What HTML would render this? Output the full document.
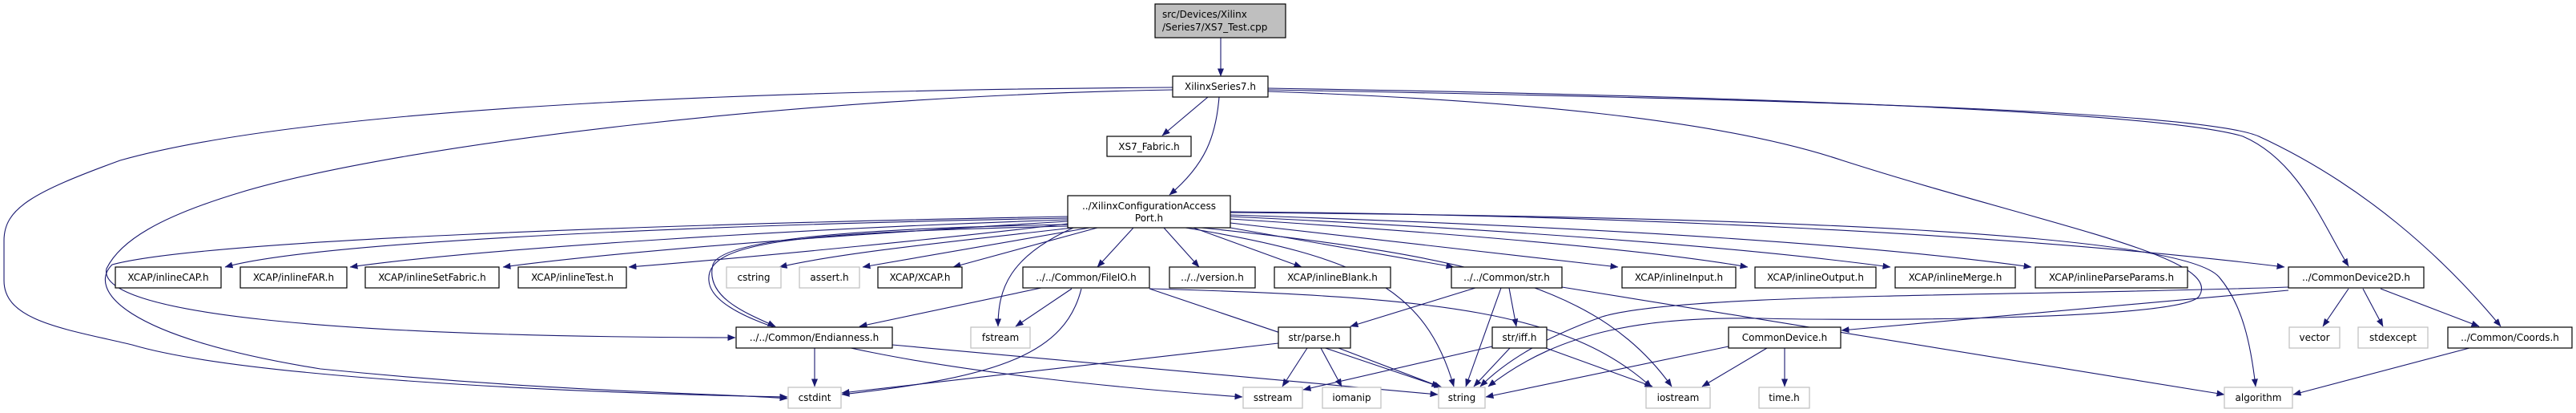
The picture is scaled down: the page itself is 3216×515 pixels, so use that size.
<!DOCTYPE html>
<html><head><meta charset="utf-8"><style>
html,body{margin:0;padding:0;background:#fff;}
svg{display:block;}
text{font-family:"DejaVu Sans","Liberation Sans",sans-serif;font-size:12px;fill:#000;}
.n{fill:#fff;stroke:#000;stroke-width:1.2;}
.g{fill:#fff;stroke:#bfbfbf;stroke-width:1.2;}
.e{fill:none;stroke:#191970;stroke-width:1.1;}
</style></head><body>
<svg width="3216" height="515" viewBox="0 0 3216 515" xmlns="http://www.w3.org/2000/svg">
<defs><marker id="a" markerWidth="10" markerHeight="8" refX="9.5" refY="4" orient="auto" markerUnits="userSpaceOnUse"><path d="M0,0 L10,4 L0,8 Z" fill="#191970"/></marker></defs>
<g class="e" marker-end="url(#a)">
<path d="M1524,47 L1524,95"/>
<path d="M1508,121 L1451,169"/>
<path d="M1522,121 C1518,170 1505,205 1460,243"/>
<path d="M1464,109 C1000,112 400,130 150,200 C40,240 5,260 5,300 L5,350 C5,400 80,410 165,430 C300,470 700,490 983,495"/>
<path d="M1464,112 C1000,120 500,180 300,240 C200,270 150,300 133,335 C120,390 400,420 918,421"/>
<path d="M1583,110 C2200,120 2700,140 2800,170 C2870,200 2900,280 2932,332"/>
<path d="M1583,112 C2300,125 2750,140 2820,170 C2950,230 3050,320 3122,407"/>
<path d="M1583,114 C1900,125 2150,150 2300,200 C2550,280 2780,320 2745,370 C2720,400 2300,400 2200,397 C2060,395 1950,410 1858,482"/>
<path d="M1333,272 C900,280 400,300 281,333"/>
<path d="M1333,274 C1000,285 600,310 437,333"/>
<path d="M1333,276 C1100,290 800,310 628,333"/>
<path d="M1333,279 C1200,295 950,320 785,333"/>
<path d="M1340,284 C1200,300 1050,315 973,333"/>
<path d="M1360,284 L1077,333"/>
<path d="M1370,284 L1190,333"/>
<path d="M1415,284 L1370,333"/>
<path d="M1453,284 L1497,333"/>
<path d="M1490,284 L1625,333"/>
<path d="M1536,284 L1815,333"/>
<path d="M1536,278 L2020,333"/>
<path d="M1536,273 C1800,290 2050,310 2182,333"/>
<path d="M1536,270 C1850,285 2150,305 2360,333"/>
<path d="M1536,268 C1900,280 2300,300 2536,333"/>
<path d="M1536,264 C2000,268 2500,290 2852,333"/>
<path d="M1536,265 C2200,270 2720,290 2770,345 C2800,380 2810,430 2816,482"/>
<path d="M1340,284 C1260,320 1246,360 1246,407"/>
<path d="M1480,284 C1700,320 1780,360 1815,482"/>
<path d="M1500,284 C1850,320 2000,360 2087,482"/>
<path d="M1333,282 C1000,290 880,300 885,350 C890,420 1200,470 1551,495"/>
<path d="M1333,280 C1050,285 900,300 890,330 C880,370 930,390 968,407"/>
<path d="M1333,270 C800,280 250,300 140,330 C110,360 150,420 400,460 C700,490 900,490 983,497"/>
<path d="M1300,359 L1073,407"/>
<path d="M1338,360 L1268,407"/>
<path d="M1350,360 C1330,440 1250,470 1051,492"/>
<path d="M1435,360 L1800,483"/>
<path d="M1435,360 C1800,370 1960,390 2062,483"/>
<path d="M1017,434 L1017,482"/>
<path d="M1114,430 L1795,492"/>
<path d="M1842,359 L1686,407"/>
<path d="M1874,359 L1830,482"/>
<path d="M1884,359 L1893,407"/>
<path d="M1950,358 L2777,492"/>
<path d="M1632,434 L1601,482"/>
<path d="M1649,434 L1675,482"/>
<path d="M1671,434 L1797,482"/>
<path d="M1596,428 L1051,490"/>
<path d="M1863,432 L1627,486"/>
<path d="M1885,434 L1840,482"/>
<path d="M1930,434 L2063,482"/>
<path d="M2158,432 L1855,495"/>
<path d="M2206,434 L2125,482"/>
<path d="M2228,434 L2228,482"/>
<path d="M2857,362 L2299,412"/>
<path d="M2857,358 C2500,370 2100,365 2000,395 C1930,420 1880,450 1848,482"/>
<path d="M2932,360 L2900,407"/>
<path d="M2950,360 L2975,407"/>
<path d="M2972,360 L3095,407"/>
<path d="M3083,434 L2863,492"/>
</g>
<!-- nodes -->
<rect x="1442" y="5" width="163" height="42" fill="#bfbfbf" stroke="#000" stroke-width="1.2"/>
<text x="1451" y="22">src/Devices/Xilinx</text><text x="1451" y="38">/Series7/XS7_Test.cpp</text>
<g>
<rect class="n" x="1464" y="95" width="119" height="26"/><text x="1523.5" y="112" text-anchor="middle">XilinxSeries7.h</text>
<rect class="n" x="1382" y="170" width="105" height="25"/><text x="1434.5" y="187" text-anchor="middle">XS7_Fabric.h</text>
<rect class="n" x="1333" y="244" width="203" height="40"/><text x="1434.5" y="261" text-anchor="middle">../XilinxConfigurationAccess</text><text x="1434.5" y="276" text-anchor="middle">Port.h</text>
</g>
<g text-anchor="middle">
<rect class="n" x="144" y="333" width="132" height="26"/><text x="210" y="350" text-anchor="middle">XCAP/inlineCAP.h</text>
<rect class="n" x="300" y="333" width="133" height="26"/><text x="366.5" y="350" text-anchor="middle">XCAP/inlineFAR.h</text>
<rect class="n" x="456" y="333" width="167" height="26"/><text x="539.5" y="350" text-anchor="middle">XCAP/inlineSetFabric.h</text>
<rect class="n" x="647" y="333" width="135" height="26"/><text x="714.5" y="350" text-anchor="middle">XCAP/inlineTest.h</text>
<rect class="g" x="907" y="333" width="68" height="26"/><text x="941" y="350" text-anchor="middle">cstring</text>
<rect class="g" x="998" y="333" width="75" height="26"/><text x="1035.5" y="350" text-anchor="middle">assert.h</text>
<rect class="n" x="1096" y="333" width="105" height="26"/><text x="1148.5" y="350" text-anchor="middle">XCAP/XCAP.h</text>
<rect class="n" x="1277" y="333" width="158" height="26"/><text x="1356" y="350" text-anchor="middle">../../Common/FileIO.h</text>
<rect class="n" x="1460" y="333" width="107" height="26"/><text x="1513.5" y="350" text-anchor="middle">../../version.h</text>
<rect class="n" x="1591" y="333" width="145" height="26"/><text x="1663.5" y="350" text-anchor="middle">XCAP/inlineBlank.h</text>
<rect class="n" x="1812" y="333" width="138" height="26"/><text x="1881" y="350" text-anchor="middle">../../Common/str.h</text>
<rect class="n" x="2025" y="333" width="142" height="26"/><text x="2096" y="350" text-anchor="middle">XCAP/inlineInput.h</text>
<rect class="n" x="2191" y="333" width="151" height="26"/><text x="2266.5" y="350" text-anchor="middle">XCAP/inlineOutput.h</text>
<rect class="n" x="2366" y="333" width="150" height="26"/><text x="2441" y="350" text-anchor="middle">XCAP/inlineMerge.h</text>
<rect class="n" x="2541" y="333" width="190" height="26"/><text x="2636" y="350" text-anchor="middle">XCAP/inlineParseParams.h</text>
<rect class="n" x="2857" y="333" width="169" height="26"/><text x="2941.5" y="350" text-anchor="middle">../CommonDevice2D.h</text>
<rect class="n" x="919" y="408" width="195" height="26"/><text x="1016.5" y="425" text-anchor="middle">../../Common/Endianness.h</text>
<rect class="g" x="1212" y="408" width="74" height="26"/><text x="1249" y="425" text-anchor="middle">fstream</text>
<rect class="n" x="1596" y="408" width="90" height="26"/><text x="1641" y="425" text-anchor="middle">str/parse.h</text>
<rect class="n" x="1863" y="408" width="68" height="26"/><text x="1897" y="425" text-anchor="middle">str/iff.h</text>
<rect class="n" x="2158" y="408" width="140" height="26"/><text x="2228" y="425" text-anchor="middle">CommonDevice.h</text>
<rect class="g" x="2858" y="408" width="63" height="26"/><text x="2889.5" y="425" text-anchor="middle">vector</text>
<rect class="g" x="2944" y="408" width="87" height="26"/><text x="2987.5" y="425" text-anchor="middle">stdexcept</text>
<rect class="n" x="3056" y="408" width="155" height="26"/><text x="3133.5" y="425" text-anchor="middle">../Common/Coords.h</text>
<rect class="g" x="984" y="483" width="66" height="26"/><text x="1017" y="500" text-anchor="middle">cstdint</text>
<rect class="g" x="1552" y="483" width="74" height="26"/><text x="1589" y="500" text-anchor="middle">sstream</text>
<rect class="g" x="1651" y="483" width="73" height="26"/><text x="1687.5" y="500" text-anchor="middle">iomanip</text>
<rect class="g" x="1796" y="483" width="58" height="26"/><text x="1825" y="500" text-anchor="middle">string</text>
<rect class="g" x="2055" y="483" width="80" height="26"/><text x="2095" y="500" text-anchor="middle">iostream</text>
<rect class="g" x="2196" y="483" width="63" height="26"/><text x="2227.5" y="500" text-anchor="middle">time.h</text>
<rect class="g" x="2777" y="483" width="85" height="26"/><text x="2819.5" y="500" text-anchor="middle">algorithm</text>
</g>
</svg>
</body></html>
